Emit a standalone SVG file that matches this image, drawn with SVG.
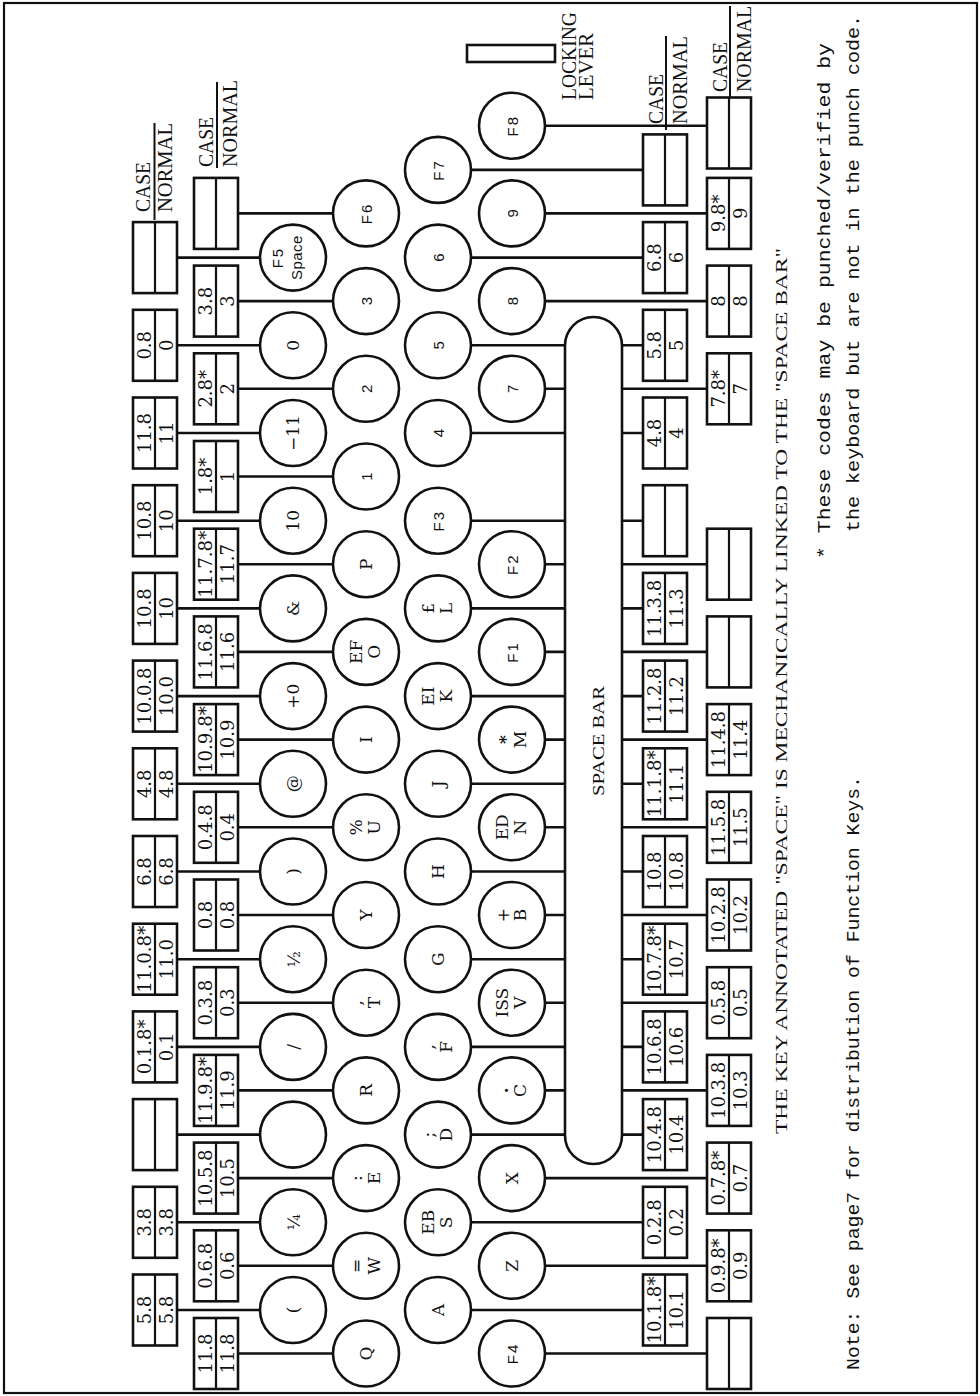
<svg xmlns="http://www.w3.org/2000/svg" width="980" height="1396" viewBox="0 0 980 1396">
<style>
.kc{fill:#fff;stroke:#111;stroke-width:2.6}
.bx{fill:#fff;stroke:#111;stroke-width:2.6}
.dv{stroke:#111;stroke-width:2.2}
.cn path{fill:none;stroke:#111;stroke-width:2.6}
.ks{font-family:"DejaVu Serif",serif;font-size:17px;text-anchor:middle;fill:#111}
.kf{font-family:"Liberation Sans",Arial,sans-serif;font-size:15px;text-anchor:middle;fill:#111}
.bt{font-family:"DejaVu Serif",serif;font-size:18px;text-anchor:middle;fill:#111}
.lb{font-family:"Liberation Serif",serif;font-size:20px;fill:#111}
.hd{font-family:"Liberation Serif",serif;font-size:17px;fill:#111}
.nt{font-family:"Liberation Mono",monospace;font-size:19px;fill:#111}
.bar{stroke:#111;stroke-width:2}
</style>
<rect x="4" y="3" width="973" height="1390" fill="#fff" stroke="#111" stroke-width="2.2"/>
<g transform="matrix(0,-1,1,0,0,1396)">
<g id="connectors" class="cn">
<path d="M86 176V260"/><path d="M173.7 176V260"/><path d="M261.4 176V260"/><path d="M349.1 176V260"/><path d="M436.8 176V260"/><path d="M524.5 176V260"/><path d="M612.2 176V260"/><path d="M699.9 176V260"/><path d="M787.6 176V260"/><path d="M875.3 176V260"/><path d="M963 176V260"/><path d="M1050.7 176V260"/><path d="M1138.4 176V260"/>
<path d="M42.5 238V333"/><path d="M130.2 238V333"/><path d="M217.9 238V333"/><path d="M305.6 238V333"/><path d="M393.3 238V333"/><path d="M481 238V333"/><path d="M568.7 238V333"/><path d="M656.4 238V333"/><path d="M744.1 238V333"/><path d="M831.8 238V333"/><path d="M919.5 238V333"/><path d="M1007.2 238V333"/><path d="M1094.9 238V333"/><path d="M1182.6 238V333"/>
<path d="M86 471V643"/><path d="M173.7 471V643"/><path d="M261.4 471V565M261.4 622V643"/><path d="M349.1 471V565M349.1 622V643"/><path d="M436.8 471V565M436.8 622V643"/><path d="M524.5 471V565M524.5 622V643"/><path d="M612.2 471V565M612.2 622V643"/><path d="M699.9 471V565M699.9 622V643"/><path d="M787.6 471V565M787.6 622V643"/><path d="M875.3 471V565M875.3 622V643"/><path d="M963 471V565M963 622V643"/><path d="M1050.7 471V565M1050.7 622V643"/><path d="M1138.4 471V643"/><path d="M1226.1 471V643"/>
<path d="M42.5 545V707"/><path d="M130.2 545V707"/><path d="M217.9 545V707"/><path d="M305.6 545V565M305.6 622V707"/><path d="M393.3 545V565M393.3 622V707"/><path d="M481 545V565M481 622V707"/><path d="M568.7 545V565M568.7 622V707"/><path d="M656.4 545V565M656.4 622V707"/><path d="M744.1 545V565M744.1 622V707"/><path d="M831.8 545V565M831.8 622V707"/><path d="M1007.2 545V565M1007.2 622V707"/><path d="M1094.9 545V707"/><path d="M1182.6 545V707"/><path d="M1270.3 545V707"/>
</g>
<g id="space-bar"><rect class="kc" x="232" y="565" width="847" height="57" rx="28.5"/><text class="hd" x="655" y="604" text-anchor="middle" textLength="110" lengthAdjust="spacingAndGlyphs">SPACE BAR</text></g>
<g id="k1">
<g id="key-lparen" transform="translate(86,293)"><circle class="kc" r="33"/><text class="ks" y="6">(</text></g>
<g id="key-quarter" transform="translate(173.7,293)"><circle class="kc" r="33"/><text class="ks" y="7">¼</text></g>
<g id="key-blank" transform="translate(261.4,293)"><circle class="kc" r="33"/></g>
<g id="key-slash" transform="translate(349.1,293)"><circle class="kc" r="33"/><text class="ks" y="6">/</text></g>
<g id="key-half" transform="translate(436.8,293)"><circle class="kc" r="33"/><text class="ks" y="7">½</text></g>
<g id="key-rparen" transform="translate(524.5,293)"><circle class="kc" r="33"/><text class="ks" y="6">)</text></g>
<g id="key-at" transform="translate(612.2,293)"><circle class="kc" r="33"/><text class="ks" y="6">@</text></g>
<g id="key-plus0" transform="translate(699.9,293)"><circle class="kc" r="33"/><text class="ks" y="6">+0</text></g>
<g id="key-amp" transform="translate(787.6,293)"><circle class="kc" r="33"/><text class="ks" y="6">&amp;</text></g>
<g id="key-10" transform="translate(875.3,293)"><circle class="kc" r="33"/><text class="ks" y="6">10</text></g>
<g id="key-m11" transform="translate(963,293)"><circle class="kc" r="33"/><text class="ks" y="6">−11</text></g>
<g id="key-0" transform="translate(1050.7,293)"><circle class="kc" r="33"/><text class="ks" y="6">0</text></g>
<g id="key-F5" transform="translate(1138.4,293)"><circle class="kc" r="33"/><text class="kf" y="-10" letter-spacing="2">F5</text><text class="kf" y="9" letter-spacing="0.5">Space</text></g>
</g>
<g id="k2">
<g id="key-Q" transform="translate(42.5,366)"><circle class="kc" r="33"/><text class="ks" y="6">Q</text></g>
<g id="key-W" transform="translate(130.2,366)"><circle class="kc" r="33"/><text class="ks" y="-4">=</text><text class="ks" y="14">W</text></g>
<g id="key-E" transform="translate(217.9,366)"><circle class="kc" r="33"/><text class="ks" y="-4">:</text><text class="ks" y="14">E</text></g>
<g id="key-R" transform="translate(305.6,366)"><circle class="kc" r="33"/><text class="ks" y="6">R</text></g>
<g id="key-T" transform="translate(393.3,366)"><circle class="kc" r="33"/><text class="ks" y="-4">,</text><text class="ks" y="14">T</text></g>
<g id="key-Y" transform="translate(481,366)"><circle class="kc" r="33"/><text class="ks" y="6">Y</text></g>
<g id="key-U" transform="translate(568.7,366)"><circle class="kc" r="33"/><text class="ks" y="-4">%</text><text class="ks" y="14">U</text></g>
<g id="key-I" transform="translate(656.4,366)"><circle class="kc" r="33"/><text class="ks" y="6">I</text></g>
<g id="key-O" transform="translate(744.1,366)"><circle class="kc" r="33"/><text class="ks" y="-4">EF</text><text class="ks" y="14">O</text></g>
<g id="key-P" transform="translate(831.8,366)"><circle class="kc" r="33"/><text class="ks" y="6">P</text></g>
<g id="key-1" transform="translate(919.5,366)"><circle class="kc" r="33"/><text class="kf" y="5.5">1</text></g>
<g id="key-2" transform="translate(1007.2,366)"><circle class="kc" r="33"/><text class="kf" y="5.5">2</text></g>
<g id="key-3" transform="translate(1094.9,366)"><circle class="kc" r="33"/><text class="kf" y="5.5">3</text></g>
<g id="key-F6" transform="translate(1182.6,366)"><circle class="kc" r="33"/><text class="kf" y="5.5" letter-spacing="2">F6</text></g>
</g>
<g id="k3">
<g id="key-A" transform="translate(86,438)"><circle class="kc" r="33"/><text class="ks" y="6">A</text></g>
<g id="key-S" transform="translate(173.7,438)"><circle class="kc" r="33"/><text class="ks" y="-4">EB</text><text class="ks" y="14">S</text></g>
<g id="key-D" transform="translate(261.4,438)"><circle class="kc" r="33"/><text class="ks" y="-4">;</text><text class="ks" y="14">D</text></g>
<g id="key-F" transform="translate(349.1,438)"><circle class="kc" r="33"/><text class="ks" y="-4">,</text><text class="ks" y="14">F</text></g>
<g id="key-G" transform="translate(436.8,438)"><circle class="kc" r="33"/><text class="ks" y="6">G</text></g>
<g id="key-H" transform="translate(524.5,438)"><circle class="kc" r="33"/><text class="ks" y="6">H</text></g>
<g id="key-J" transform="translate(612.2,438)"><circle class="kc" r="33"/><text class="ks" y="6">J</text></g>
<g id="key-K" transform="translate(699.9,438)"><circle class="kc" r="33"/><text class="ks" y="-4">EI</text><text class="ks" y="14">K</text></g>
<g id="key-L" transform="translate(787.6,438)"><circle class="kc" r="33"/><text class="ks" y="-4">£</text><text class="ks" y="14">L</text></g>
<g id="key-F3" transform="translate(875.3,438)"><circle class="kc" r="33"/><text class="kf" y="5.5" letter-spacing="2">F3</text></g>
<g id="key-4" transform="translate(963,438)"><circle class="kc" r="33"/><text class="kf" y="5.5">4</text></g>
<g id="key-5" transform="translate(1050.7,438)"><circle class="kc" r="33"/><text class="kf" y="5.5">5</text></g>
<g id="key-6" transform="translate(1138.4,438)"><circle class="kc" r="33"/><text class="kf" y="5.5">6</text></g>
<g id="key-F7" transform="translate(1226.1,438)"><circle class="kc" r="33"/><text class="kf" y="5.5" letter-spacing="2">F7</text></g>
</g>
<g id="k4">
<g id="key-F4" transform="translate(42.5,512)"><circle class="kc" r="33"/><text class="kf" y="5.5" letter-spacing="2">F4</text></g>
<g id="key-Z" transform="translate(130.2,512)"><circle class="kc" r="33"/><text class="ks" y="6">Z</text></g>
<g id="key-X" transform="translate(217.9,512)"><circle class="kc" r="33"/><text class="ks" y="6">X</text></g>
<g id="key-C" transform="translate(305.6,512)"><circle class="kc" r="33"/><text class="ks" y="-4" font-weight="bold">.</text><text class="ks" y="14">C</text></g>
<g id="key-V" transform="translate(393.3,512)"><circle class="kc" r="33"/><text class="ks" y="-4">ISS</text><text class="ks" y="14">V</text></g>
<g id="key-B" transform="translate(481,512)"><circle class="kc" r="33"/><text class="ks" y="-3">+</text><text class="ks" y="14">B</text></g>
<g id="key-N" transform="translate(568.7,512)"><circle class="kc" r="33"/><text class="ks" y="-4">ED</text><text class="ks" y="14">N</text></g>
<g id="key-M" transform="translate(656.4,512)"><circle class="kc" r="33"/><text class="ks" y="-1" font-weight="bold">*</text><text class="ks" y="14">M</text></g>
<g id="key-F1" transform="translate(744.1,512)"><circle class="kc" r="33"/><text class="kf" y="5.5" letter-spacing="2">F1</text></g>
<g id="key-F2" transform="translate(831.8,512)"><circle class="kc" r="33"/><text class="kf" y="5.5" letter-spacing="2">F2</text></g>
<g id="key-7" transform="translate(1007.2,512)"><circle class="kc" r="33"/><text class="kf" y="5.5">7</text></g>
<g id="key-8" transform="translate(1094.9,512)"><circle class="kc" r="33"/><text class="kf" y="5.5">8</text></g>
<g id="key-9" transform="translate(1182.6,512)"><circle class="kc" r="33"/><text class="kf" y="5.5">9</text></g>
<g id="key-F8" transform="translate(1270.3,512)"><circle class="kc" r="33"/><text class="kf" y="5.5" letter-spacing="2">F8</text></g>
</g>
<g id="rowA">
<g id="boxA0" transform="translate(86,133)"><rect class="bx" x="-35.5" width="71" height="44"/><path class="dv" d="M-35.5 22H35.5"/><text class="bt" y="17.5">5.8</text><text class="bt" y="39.5">5.8</text></g>
<g id="boxA1" transform="translate(173.7,133)"><rect class="bx" x="-35.5" width="71" height="44"/><path class="dv" d="M-35.5 22H35.5"/><text class="bt" y="17.5">3.8</text><text class="bt" y="39.5">3.8</text></g>
<g id="boxA2" transform="translate(261.4,133)"><rect class="bx" x="-35.5" width="71" height="44"/><path class="dv" d="M-35.5 22H35.5"/></g>
<g id="boxA3" transform="translate(349.1,133)"><rect class="bx" x="-35.5" width="71" height="44"/><path class="dv" d="M-35.5 22H35.5"/><text class="bt" y="17.5">0.1.8*</text><text class="bt" y="39.5">0.1</text></g>
<g id="boxA4" transform="translate(436.8,133)"><rect class="bx" x="-35.5" width="71" height="44"/><path class="dv" d="M-35.5 22H35.5"/><text class="bt" y="17.5" textLength="67" lengthAdjust="spacingAndGlyphs">11.0.8*</text><text class="bt" y="39.5">11.0</text></g>
<g id="boxA5" transform="translate(524.5,133)"><rect class="bx" x="-35.5" width="71" height="44"/><path class="dv" d="M-35.5 22H35.5"/><text class="bt" y="17.5">6.8</text><text class="bt" y="39.5">6.8</text></g>
<g id="boxA6" transform="translate(612.2,133)"><rect class="bx" x="-35.5" width="71" height="44"/><path class="dv" d="M-35.5 22H35.5"/><text class="bt" y="17.5">4.8</text><text class="bt" y="39.5">4.8</text></g>
<g id="boxA7" transform="translate(699.9,133)"><rect class="bx" x="-35.5" width="71" height="44"/><path class="dv" d="M-35.5 22H35.5"/><text class="bt" y="17.5">10.0.8</text><text class="bt" y="39.5">10.0</text></g>
<g id="boxA8" transform="translate(787.6,133)"><rect class="bx" x="-35.5" width="71" height="44"/><path class="dv" d="M-35.5 22H35.5"/><text class="bt" y="17.5">10.8</text><text class="bt" y="39.5">10</text></g>
<g id="boxA9" transform="translate(875.3,133)"><rect class="bx" x="-35.5" width="71" height="44"/><path class="dv" d="M-35.5 22H35.5"/><text class="bt" y="17.5">10.8</text><text class="bt" y="39.5">10</text></g>
<g id="boxA10" transform="translate(963,133)"><rect class="bx" x="-35.5" width="71" height="44"/><path class="dv" d="M-35.5 22H35.5"/><text class="bt" y="17.5">11.8</text><text class="bt" y="39.5">11</text></g>
<g id="boxA11" transform="translate(1050.7,133)"><rect class="bx" x="-35.5" width="71" height="44"/><path class="dv" d="M-35.5 22H35.5"/><text class="bt" y="17.5">0.8</text><text class="bt" y="39.5">0</text></g>
<g id="boxA12" transform="translate(1138.4,133)"><rect class="bx" x="-35.5" width="71" height="44"/><path class="dv" d="M-35.5 22H35.5"/></g>
<g id="labelA"><text class="lb" x="1184" y="150" textLength="50" lengthAdjust="spacingAndGlyphs">CASE</text><path class="bar" d="M1176 154.5H1273"/><text class="lb" x="1184" y="172" textLength="89" lengthAdjust="spacingAndGlyphs">NORMAL</text></g>
</g>
<g id="rowB">
<g id="boxB0" transform="translate(42.5,194)"><rect class="bx" x="-35.5" width="71" height="44"/><path class="dv" d="M-35.5 22H35.5"/><text class="bt" y="17.5">11.8</text><text class="bt" y="39.5">11.8</text></g>
<g id="boxB1" transform="translate(130.2,194)"><rect class="bx" x="-35.5" width="71" height="44"/><path class="dv" d="M-35.5 22H35.5"/><text class="bt" y="17.5">0.6.8</text><text class="bt" y="39.5">0.6</text></g>
<g id="boxB2" transform="translate(217.9,194)"><rect class="bx" x="-35.5" width="71" height="44"/><path class="dv" d="M-35.5 22H35.5"/><text class="bt" y="17.5">10.5.8</text><text class="bt" y="39.5">10.5</text></g>
<g id="boxB3" transform="translate(305.6,194)"><rect class="bx" x="-35.5" width="71" height="44"/><path class="dv" d="M-35.5 22H35.5"/><text class="bt" y="17.5" textLength="67" lengthAdjust="spacingAndGlyphs">11.9.8*</text><text class="bt" y="39.5">11.9</text></g>
<g id="boxB4" transform="translate(393.3,194)"><rect class="bx" x="-35.5" width="71" height="44"/><path class="dv" d="M-35.5 22H35.5"/><text class="bt" y="17.5">0.3.8</text><text class="bt" y="39.5">0.3</text></g>
<g id="boxB5" transform="translate(481,194)"><rect class="bx" x="-35.5" width="71" height="44"/><path class="dv" d="M-35.5 22H35.5"/><text class="bt" y="17.5">0.8</text><text class="bt" y="39.5">0.8</text></g>
<g id="boxB6" transform="translate(568.7,194)"><rect class="bx" x="-35.5" width="71" height="44"/><path class="dv" d="M-35.5 22H35.5"/><text class="bt" y="17.5">0.4.8</text><text class="bt" y="39.5">0.4</text></g>
<g id="boxB7" transform="translate(656.4,194)"><rect class="bx" x="-35.5" width="71" height="44"/><path class="dv" d="M-35.5 22H35.5"/><text class="bt" y="17.5" textLength="67" lengthAdjust="spacingAndGlyphs">10.9.8*</text><text class="bt" y="39.5">10.9</text></g>
<g id="boxB8" transform="translate(744.1,194)"><rect class="bx" x="-35.5" width="71" height="44"/><path class="dv" d="M-35.5 22H35.5"/><text class="bt" y="17.5">11.6.8</text><text class="bt" y="39.5">11.6</text></g>
<g id="boxB9" transform="translate(831.8,194)"><rect class="bx" x="-35.5" width="71" height="44"/><path class="dv" d="M-35.5 22H35.5"/><text class="bt" y="17.5" textLength="67" lengthAdjust="spacingAndGlyphs">11.7.8*</text><text class="bt" y="39.5">11.7</text></g>
<g id="boxB10" transform="translate(919.5,194)"><rect class="bx" x="-35.5" width="71" height="44"/><path class="dv" d="M-35.5 22H35.5"/><text class="bt" y="17.5">1.8*</text><text class="bt" y="39.5">1</text></g>
<g id="boxB11" transform="translate(1007.2,194)"><rect class="bx" x="-35.5" width="71" height="44"/><path class="dv" d="M-35.5 22H35.5"/><text class="bt" y="17.5">2.8*</text><text class="bt" y="39.5">2</text></g>
<g id="boxB12" transform="translate(1094.9,194)"><rect class="bx" x="-35.5" width="71" height="44"/><path class="dv" d="M-35.5 22H35.5"/><text class="bt" y="17.5">3.8</text><text class="bt" y="39.5">3</text></g>
<g id="boxB13" transform="translate(1182.6,194)"><rect class="bx" x="-35.5" width="71" height="44"/><path class="dv" d="M-35.5 22H35.5"/></g>
<g id="labelB"><text class="lb" x="1229" y="213" textLength="50" lengthAdjust="spacingAndGlyphs">CASE</text><path class="bar" d="M1228 217H1314"/><text class="lb" x="1229" y="237" textLength="87" lengthAdjust="spacingAndGlyphs">NORMAL</text></g>
</g>
<g id="rowC">
<g id="boxC0" transform="translate(86,643)"><rect class="bx" x="-35.5" width="71" height="44"/><path class="dv" d="M-35.5 22H35.5"/><text class="bt" y="17.5" textLength="67" lengthAdjust="spacingAndGlyphs">10.1.8*</text><text class="bt" y="39.5">10.1</text></g>
<g id="boxC1" transform="translate(173.7,643)"><rect class="bx" x="-35.5" width="71" height="44"/><path class="dv" d="M-35.5 22H35.5"/><text class="bt" y="17.5">0.2.8</text><text class="bt" y="39.5">0.2</text></g>
<g id="boxC2" transform="translate(261.4,643)"><rect class="bx" x="-35.5" width="71" height="44"/><path class="dv" d="M-35.5 22H35.5"/><text class="bt" y="17.5">10.4.8</text><text class="bt" y="39.5">10.4</text></g>
<g id="boxC3" transform="translate(349.1,643)"><rect class="bx" x="-35.5" width="71" height="44"/><path class="dv" d="M-35.5 22H35.5"/><text class="bt" y="17.5">10.6.8</text><text class="bt" y="39.5">10.6</text></g>
<g id="boxC4" transform="translate(436.8,643)"><rect class="bx" x="-35.5" width="71" height="44"/><path class="dv" d="M-35.5 22H35.5"/><text class="bt" y="17.5" textLength="67" lengthAdjust="spacingAndGlyphs">10.7.8*</text><text class="bt" y="39.5">10.7</text></g>
<g id="boxC5" transform="translate(524.5,643)"><rect class="bx" x="-35.5" width="71" height="44"/><path class="dv" d="M-35.5 22H35.5"/><text class="bt" y="17.5">10.8</text><text class="bt" y="39.5">10.8</text></g>
<g id="boxC6" transform="translate(612.2,643)"><rect class="bx" x="-35.5" width="71" height="44"/><path class="dv" d="M-35.5 22H35.5"/><text class="bt" y="17.5" textLength="67" lengthAdjust="spacingAndGlyphs">11.1.8*</text><text class="bt" y="39.5">11.1</text></g>
<g id="boxC7" transform="translate(699.9,643)"><rect class="bx" x="-35.5" width="71" height="44"/><path class="dv" d="M-35.5 22H35.5"/><text class="bt" y="17.5">11.2.8</text><text class="bt" y="39.5">11.2</text></g>
<g id="boxC8" transform="translate(787.6,643)"><rect class="bx" x="-35.5" width="71" height="44"/><path class="dv" d="M-35.5 22H35.5"/><text class="bt" y="17.5">11.3.8</text><text class="bt" y="39.5">11.3</text></g>
<g id="boxC9" transform="translate(875.3,643)"><rect class="bx" x="-35.5" width="71" height="44"/><path class="dv" d="M-35.5 22H35.5"/></g>
<g id="boxC10" transform="translate(963,643)"><rect class="bx" x="-35.5" width="71" height="44"/><path class="dv" d="M-35.5 22H35.5"/><text class="bt" y="17.5">4.8</text><text class="bt" y="39.5">4</text></g>
<g id="boxC11" transform="translate(1050.7,643)"><rect class="bx" x="-35.5" width="71" height="44"/><path class="dv" d="M-35.5 22H35.5"/><text class="bt" y="17.5">5.8</text><text class="bt" y="39.5">5</text></g>
<g id="boxC12" transform="translate(1138.4,643)"><rect class="bx" x="-35.5" width="71" height="44"/><path class="dv" d="M-35.5 22H35.5"/><text class="bt" y="17.5">6.8</text><text class="bt" y="39.5">6</text></g>
<g id="boxC13" transform="translate(1226.1,643)"><rect class="bx" x="-35.5" width="71" height="44"/><path class="dv" d="M-35.5 22H35.5"/></g>
<g id="labelC"><text class="lb" x="1272" y="663" textLength="50" lengthAdjust="spacingAndGlyphs">CASE</text><path class="bar" d="M1266 666H1360"/><text class="lb" x="1272" y="687" textLength="88" lengthAdjust="spacingAndGlyphs">NORMAL</text></g>
</g>
<g id="rowD">
<g id="boxD0" transform="translate(42.5,707)"><rect class="bx" x="-35.5" width="71" height="44"/><path class="dv" d="M-35.5 22H35.5"/></g>
<g id="boxD1" transform="translate(130.2,707)"><rect class="bx" x="-35.5" width="71" height="44"/><path class="dv" d="M-35.5 22H35.5"/><text class="bt" y="17.5">0.9.8*</text><text class="bt" y="39.5">0.9</text></g>
<g id="boxD2" transform="translate(217.9,707)"><rect class="bx" x="-35.5" width="71" height="44"/><path class="dv" d="M-35.5 22H35.5"/><text class="bt" y="17.5">0.7.8*</text><text class="bt" y="39.5">0.7</text></g>
<g id="boxD3" transform="translate(305.6,707)"><rect class="bx" x="-35.5" width="71" height="44"/><path class="dv" d="M-35.5 22H35.5"/><text class="bt" y="17.5">10.3.8</text><text class="bt" y="39.5">10.3</text></g>
<g id="boxD4" transform="translate(393.3,707)"><rect class="bx" x="-35.5" width="71" height="44"/><path class="dv" d="M-35.5 22H35.5"/><text class="bt" y="17.5">0.5.8</text><text class="bt" y="39.5">0.5</text></g>
<g id="boxD5" transform="translate(481,707)"><rect class="bx" x="-35.5" width="71" height="44"/><path class="dv" d="M-35.5 22H35.5"/><text class="bt" y="17.5">10.2.8</text><text class="bt" y="39.5">10.2</text></g>
<g id="boxD6" transform="translate(568.7,707)"><rect class="bx" x="-35.5" width="71" height="44"/><path class="dv" d="M-35.5 22H35.5"/><text class="bt" y="17.5">11.5.8</text><text class="bt" y="39.5">11.5</text></g>
<g id="boxD7" transform="translate(656.4,707)"><rect class="bx" x="-35.5" width="71" height="44"/><path class="dv" d="M-35.5 22H35.5"/><text class="bt" y="17.5">11.4.8</text><text class="bt" y="39.5">11.4</text></g>
<g id="boxD8" transform="translate(744.1,707)"><rect class="bx" x="-35.5" width="71" height="44"/><path class="dv" d="M-35.5 22H35.5"/></g>
<g id="boxD9" transform="translate(831.8,707)"><rect class="bx" x="-35.5" width="71" height="44"/><path class="dv" d="M-35.5 22H35.5"/></g>
<g id="boxD11" transform="translate(1007.2,707)"><rect class="bx" x="-35.5" width="71" height="44"/><path class="dv" d="M-35.5 22H35.5"/><text class="bt" y="17.5">7.8*</text><text class="bt" y="39.5">7</text></g>
<g id="boxD12" transform="translate(1094.9,707)"><rect class="bx" x="-35.5" width="71" height="44"/><path class="dv" d="M-35.5 22H35.5"/><text class="bt" y="17.5">8</text><text class="bt" y="39.5">8</text></g>
<g id="boxD13" transform="translate(1182.6,707)"><rect class="bx" x="-35.5" width="71" height="44"/><path class="dv" d="M-35.5 22H35.5"/><text class="bt" y="17.5">9.8*</text><text class="bt" y="39.5">9</text></g>
<g id="boxD14" transform="translate(1263,707)"><rect class="bx" x="-35.5" width="71" height="44"/><path class="dv" d="M-35.5 22H35.5"/></g>
<g id="labelD"><text class="lb" x="1304" y="727" textLength="50" lengthAdjust="spacingAndGlyphs">CASE</text><path class="bar" d="M1298 730H1390"/><text class="lb" x="1304" y="751" textLength="86" lengthAdjust="spacingAndGlyphs">NORMAL</text></g>
</g>
<g id="locking-lever"><rect x="1334" y="467" width="17" height="88" fill="#fff" stroke="#111" stroke-width="2.6"/><text class="lb" x="1296" y="576" textLength="88" lengthAdjust="spacingAndGlyphs">LOCKING</text><text class="lb" x="1296" y="593" textLength="67" lengthAdjust="spacingAndGlyphs">LEVER</text></g>
<g id="notes">
<text class="hd" x="262" y="787" textLength="886" lengthAdjust="spacingAndGlyphs">THE KEY ANNOTATED "SPACE" IS MECHANICALLY LINKED TO THE "SPACE BAR"</text>
<text class="nt" x="837" y="830" textLength="516" lengthAdjust="spacingAndGlyphs">* These codes may be punched/verified by</text>
<text class="nt" x="864" y="859" textLength="517" lengthAdjust="spacingAndGlyphs">the keyboard but are not in the punch code.</text>
<text class="nt" x="26" y="859" textLength="594" lengthAdjust="spacingAndGlyphs">Note: See page7 for distribution of Function Keys.</text>
</g>
</g>
</svg>
